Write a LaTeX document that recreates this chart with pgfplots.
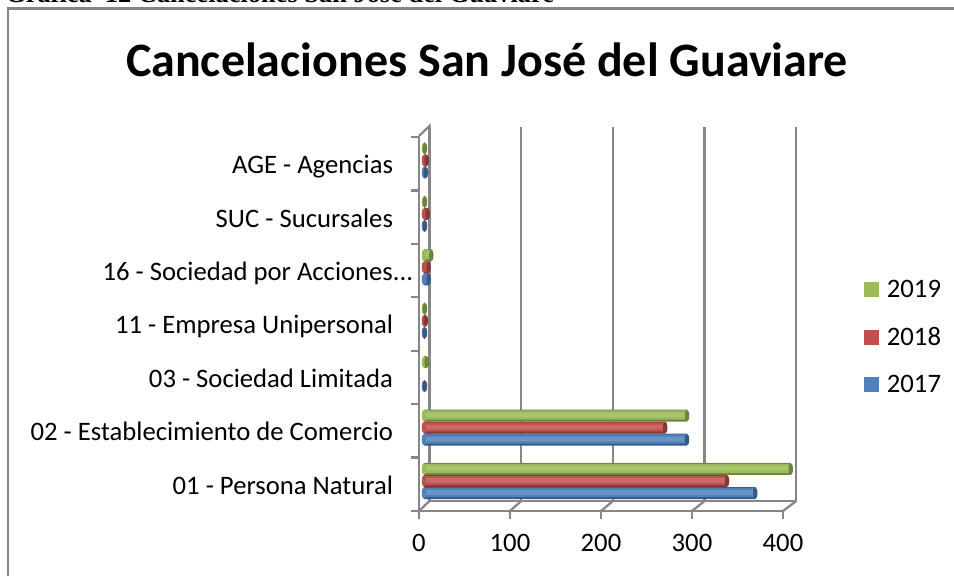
\documentclass[border=0pt]{standalone}
\usepackage{pgfplots}
\usepackage{pgfplotstable}
\pgfplotsset{compat=1.18}
\usepackage{fontspec}
\setmainfont{Carlito}
\newfontfamily\capfont{Liberation Serif}
\definecolor{cgreen}{HTML}{9BBB59}
\definecolor{cred}{HTML}{C0504D}
\definecolor{cblue}{HTML}{4F81BD}
\definecolor{gridc}{RGB}{134,134,134}
\pgfdeclareplotmark{cap}{\pgfpathellipse{\pgfpointorigin}{\pgfqpoint{1.7pt}{0pt}}{\pgfqpoint{0pt}{4.4pt}}\pgfusepathqfill}
\pgfplotstableread{
v y
364 -0.225
289 0.775
1 1.775
1 2.775
5 3.775
1 4.775
2 5.775
}\tseventeen
\pgfplotstableread{
v y
333 0
265 1
2 3
5 4
4 5
3 6
}\teighteen
\pgfplotstableread{
v y
403 0.225
289 1.225
3 2.225
1 3.225
8 4.225
1 5.225
1 6.225
}\tnineteen
\pgfplotsset{
  barbase/.style={xbar, bar shift=0pt, bar width=9pt, draw=none, mark=none, fill=#1!70!black,
    area legend,
    legend image code/.code={\fill[#1] (0pt,-5.6pt) rectangle (11.2pt,5.6pt);\path (15.5pt,0pt);}},
  barmid/.style={xbar, bar shift=0.4pt, bar width=7pt, draw=none, mark=none, fill=#1, forget plot},
  barhi/.style={xbar, bar shift=0.4pt, bar width=3.4pt, draw=none, mark=none, fill=#1!85!white, forget plot},
  capseries/.style={only marks, mark=cap, mark options={fill=#1}, forget plot},
}
\begin{document}
\begin{tikzpicture}[x=0.75pt,y=0.75pt]
\path[use as bounding box] (0,0) rectangle (954,576);
% page furniture
\draw[gridc,line width=2pt] (8,0) -- (8,567.5) -- (954,567.5);
\node[anchor=base west,inner sep=0pt,font=\capfont\bfseries\fontsize{19.8}{22}\selectfont] at (5,573) {Gráfica\ \ 12 Cancelaciones San José del Guaviare};
\node[font=\bfseries\fontsize{36}{42}\selectfont] at (487,516) {Cancelaciones San José del Guaviare};
% back wall
\begin{axis}[at={(322.1pt,56.25pt)},anchor=south west,scale only axis,width=275pt,height=280.5pt,
  xmin=0,xmax=400,ymin=0,ymax=7,axis lines=left,axis line style={draw=none},
  major tick length=0pt,
  xtick={0,100,200,300,400},ytick=\empty,xticklabels={},
  xmajorgrids,grid style={gridc,line width=1.7pt},clip=false]
\addplot[draw=none] coordinates {(0,0)};
\end{axis}
% front axis
\begin{axis}[at={(314.25pt,48.75pt)},anchor=south west,scale only axis,width=273pt,height=280.5pt,
  xmin=0,xmax=400,ymin=0,ymax=7,
  axis x line*=bottom,axis y line*=left,
  axis line style={gridc,line width=1.7pt,-},
  xtick={0,100,200,300,400},minor xtick={0,100,200,300,400},
  ytick={0.5,1.5,2.5,3.5,4.5,5.5,6.5},minor ytick={0,1,2,3,4,5,6,7},
  yticklabels={01 - Persona Natural,02 - Establecimiento de Comercio,03 - Sociedad Limitada,11 - Empresa Unipersonal,16 - Sociedad por Acciones\rlap{...},SUC - Sucursales,AGE - Agencias},
  major tick length=0pt,minor tick length=6pt,tick align=outside,
  minor tick style={gridc,line width=1.7pt},
  tick label style={font=\fontsize{20}{24}\selectfont,/pgf/number format/assume math mode=true},
  x tick label style={yshift=-30pt,anchor=base},
  y tick label style={xshift=-16pt,yshift=-7.4pt,anchor=base east},
  clip=false]
\addplot[draw=none] coordinates {(0,0)};
\end{axis}
% floor and wall joins
\draw[gridc,line width=1.7pt] (419,65) -- (429.5,75) -- (429.5,450) -- (419,440);
\foreach \X in {100,200,300,400}{\draw[gridc,line width=1.7pt] ({419+\X*0.91},65) -- ({429.5+\X*0.917},75);}
\draw[gridc,line width=1.7pt] (429.5,75) -- (796.3,75);
% bars
\begin{axis}[at={(318pt,51.2pt)},anchor=south west,scale only axis,width=273pt,height=280.5pt,
  xmin=0,xmax=400,ymin=-0.5,ymax=6.5,axis x line=none,axis y line=none,
  clip=false,
  reverse legend,legend cell align=left,
  legend style={at={(1.196,0.456)},anchor=west,draw=none,fill=none,font=\fontsize{20}{24}\selectfont,row sep=17pt}]
\addplot[capseries={cblue}] table[x expr=0,y=y] {\tseventeen};
\addplot[barbase=cblue] table[x=v,y=y] {\tseventeen};
\addlegendentry{2017}
\addplot[barmid=cblue] table[x=v,y=y] {\tseventeen};
\addplot[barhi=cblue] table[x=v,y=y] {\tseventeen};
\addplot[capseries={cblue!70!black}] table[x=v,y=y] {\tseventeen};
\addplot[capseries={cred}] table[x expr=0,y=y] {\teighteen};
\addplot[barbase=cred] table[x=v,y=y] {\teighteen};
\addlegendentry{2018}
\addplot[barmid=cred] table[x=v,y=y] {\teighteen};
\addplot[barhi=cred] table[x=v,y=y] {\teighteen};
\addplot[capseries={cred!70!black}] table[x=v,y=y] {\teighteen};
\addplot[capseries={cgreen}] table[x expr=0,y=y] {\tnineteen};
\addplot[barbase=cgreen] table[x=v,y=y] {\tnineteen};
\addlegendentry{2019}
\addplot[barmid=cgreen] table[x=v,y=y] {\tnineteen};
\addplot[barhi=cgreen] table[x=v,y=y] {\tnineteen};
\addplot[capseries={cgreen!70!black}] table[x=v,y=y] {\tnineteen};
\end{axis}
\end{tikzpicture}
\end{document}
